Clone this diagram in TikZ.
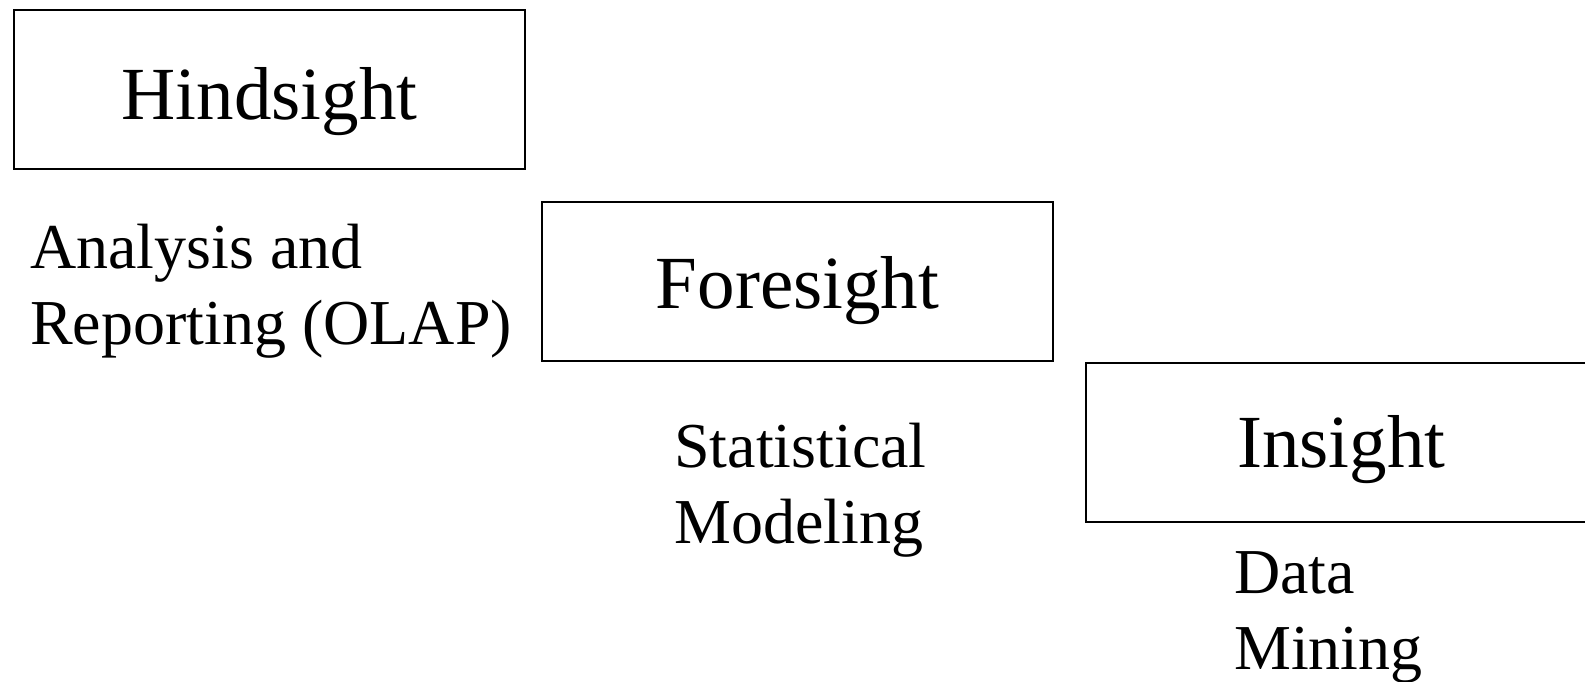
\documentclass[tikz,border=0pt]{standalone}
\usepackage{fontspec}
\setmainfont{Liberation Serif}
\begin{document}
\begin{tikzpicture}[x=1pt,y=-1pt,
  stage/.style={draw,line width=2pt,minimum width=511pt,minimum height=159pt,
    inner sep=0pt,font=\fontsize{75}{84}\selectfont,text depth=0pt},
  method/.style={anchor=base west,align=left,inner sep=0pt,
    font=\fontsize{64}{76}\selectfont}]
\useasboundingbox (0,0) rectangle (1585,681);
\node[stage,text height=59pt] (hind) at (269.5,89.5) {Hindsight};
\node[stage,text height=53pt] (fore) at (797.5,281.5) {Foresight};
\node[stage,text height=50pt] (ins) at (1341.5,442) {Insight};
% the base anchor of these two-line labels sits on the second line
\node[method] (olap) at (30,344) {Analysis and\\Reporting (OLAP)};
\node[method] (stat) at (674,543) {Statistical\\Modeling};
\node[method] (mine) at (1234,669) {Data\\Mining};
\end{tikzpicture}
\end{document}
